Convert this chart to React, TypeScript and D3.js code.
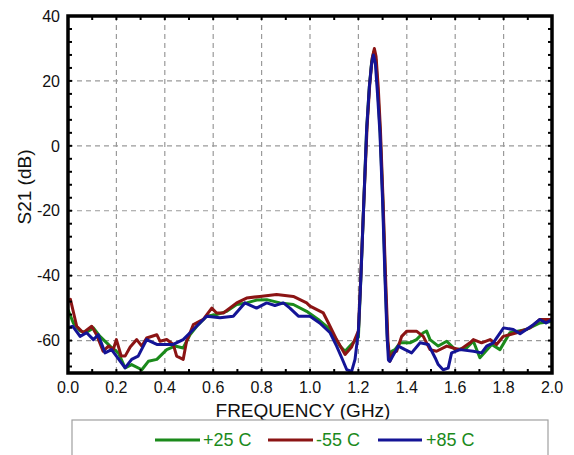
import React from "react";
import * as d3 from "d3";

// +25 C series
const freq25 = [0, 0.022, 0.05, 0.075, 0.105, 0.132, 0.174, 0.208, 0.236, 0.263, 0.305, 0.332, 0.367, 0.408, 0.442, 0.476, 0.504, 0.532, 0.573, 0.614, 0.656, 0.697, 0.738, 0.78, 0.821, 0.876, 0.931, 0.986, 1.034, 1.083, 1.124, 1.145, 1.165, 1.2, 1.21, 1.222, 1.234, 1.245, 1.255, 1.264, 1.272, 1.281, 1.29, 1.301, 1.311, 1.32, 1.327, 1.337, 1.351, 1.372, 1.413, 1.44, 1.468, 1.482, 1.496, 1.53, 1.565, 1.6, 1.647, 1.675, 1.702, 1.751, 1.785, 1.826, 1.895, 1.95, 2.0];
const s21_25 = [-50.5, -54.6, -57.1, -57.5, -56.1, -58.7, -61.7, -63.8, -68.4, -67.4, -69, -66.4, -65.8, -62.8, -61.7, -62.3, -58.2, -55.6, -52.5, -52, -51, -48.9, -48.4, -47.5, -47.4, -48.4, -48.9, -51, -53.5, -56.6, -61.7, -63.3, -61.7, -59, -41, -18, 5, 18, 26, 29, 26.5, 16, 4, -17, -41, -60, -65, -63.3, -62.8, -60.7, -60.7, -59.7, -57.6, -57.1, -59.7, -61.7, -60.2, -62.8, -62.3, -60.2, -65.3, -61.2, -62.8, -57.6, -56.6, -54.6, -54.1];

// -55 C series
const freqM55 = [0, 0.01, 0.036, 0.063, 0.098, 0.118, 0.145, 0.167, 0.187, 0.2, 0.22, 0.236, 0.257, 0.284, 0.305, 0.325, 0.367, 0.38, 0.408, 0.435, 0.449, 0.476, 0.49, 0.518, 0.559, 0.594, 0.614, 0.642, 0.697, 0.738, 0.793, 0.862, 0.931, 0.986, 1.0, 1.055, 1.076, 1.11, 1.145, 1.172, 1.2, 1.21, 1.222, 1.236, 1.247, 1.257, 1.266, 1.273, 1.282, 1.291, 1.302, 1.312, 1.322, 1.33, 1.344, 1.358, 1.379, 1.4, 1.44, 1.468, 1.496, 1.523, 1.565, 1.592, 1.62, 1.661, 1.675, 1.709, 1.744, 1.771, 1.799, 1.854, 1.909, 1.95, 2.0];
const s21_M55 = [-47.6, -47.3, -55.6, -57.6, -55.6, -58.2, -63.3, -61.7, -62.8, -59.7, -64.8, -64.8, -62, -59.7, -61.7, -59.2, -58.2, -60.2, -59.7, -61.2, -64.8, -65.8, -60.2, -55.1, -53.5, -50, -51.5, -51.5, -48.4, -46.9, -46.4, -45.8, -46.4, -48.4, -49.4, -51.5, -54.6, -59.7, -64.3, -62, -57, -40, -18, 6, 19, 27, 30, 27.5, 18, 5, -17, -40, -60, -66.4, -63.8, -63.3, -58.7, -57.1, -57.1, -58.7, -62.8, -63.3, -61.7, -62.3, -62.8, -60.7, -59.7, -60.7, -59.7, -61.2, -58.7, -57.6, -56.1, -53.5, -53.5];

// +85 C series
const freq85 = [0, 0.02, 0.05, 0.077, 0.105, 0.125, 0.153, 0.18, 0.2, 0.236, 0.263, 0.29, 0.325, 0.367, 0.435, 0.476, 0.518, 0.573, 0.628, 0.683, 0.731, 0.779, 0.821, 0.855, 0.89, 0.917, 0.952, 1.0, 1.04, 1.083, 1.11, 1.131, 1.152, 1.172, 1.186, 1.2, 1.21, 1.222, 1.234, 1.245, 1.254, 1.262, 1.27, 1.279, 1.289, 1.3, 1.31, 1.318, 1.324, 1.33, 1.365, 1.393, 1.42, 1.455, 1.489, 1.517, 1.53, 1.55, 1.571, 1.585, 1.62, 1.675, 1.709, 1.73, 1.757, 1.8, 1.84, 1.868, 1.923, 1.95, 1.975, 2.0];
const s21_85 = [-56.1, -55.6, -58.7, -57.6, -59.7, -58.2, -63.8, -62.8, -64.8, -68.4, -65.8, -64.8, -59.7, -61.2, -61.2, -59.7, -56.6, -52.5, -53, -52.5, -48.4, -50, -48.4, -49.2, -48.4, -50, -52.5, -52.5, -54.6, -57.6, -61.7, -65.3, -69, -69.5, -65.8, -57, -41, -18, 5, 18, 25, 28, 25.5, 16, 4, -17, -41, -58, -66, -66.4, -61.7, -62.8, -63.8, -60.7, -61.2, -65.3, -67.4, -69, -68.5, -63.8, -62.8, -63.3, -63.8, -61.7, -60.7, -56.1, -56.6, -57.9, -55.1, -53.5, -54.6, -53.5];

const seriesNames = ["+25 C", "-55 C", "+85 C"];
const seriesColors = ["#1b8a1b", "#8b1414", "#141496"];
const legendTextColor = "#1b8a1b";
const xTicks = [0, 0.2, 0.4, 0.6, 0.8, 1.0, 1.2, 1.4, 1.6, 1.8, 2.0];
const yTicks = [40, 20, 0, -20, -40, -60];

const W = 574, H = 455;
const L = 68, R = 552, T = 16, B = 373;

export default function App() {
  const x = d3.scaleLinear().domain([0, 2]).range([L, R]);
  const y = d3.scaleLinear().domain([-70, 40]).range([B, T]);
  const line = d3.line<[number, number]>().x(d => x(d[0])).y(d => y(d[1]));
  const allSeries = [
    d3.zip(freq25, s21_25) as [number, number][],
    d3.zip(freqM55, s21_M55) as [number, number][],
    d3.zip(freq85, s21_85) as [number, number][],
  ];
  const minorX = d3.range(1, 20).map(i => i / 10);
  const minorY = d3.range(36, -70, -4);
  const font = "'Liberation Sans', Arial, sans-serif";
  const legendItems = [
    { x1: 155, x2: 200, tx: 203 },
    { x1: 268, x2: 313, tx: 316 },
    { x1: 378, x2: 422, tx: 426 },
  ];
  return (
    <svg width={W} height={H} style={{ position: "absolute", left: 0, top: 0, background: "#fff" }} fontFamily={font}>
      <defs>
        <clipPath id="plotclip">
          <rect x={L} y={T} width={R - L} height={B - T} />
        </clipPath>
      </defs>
      <rect x={0} y={0} width={W} height={H} fill="#fff" />
      {xTicks.slice(1, -1).map(t => (
        <line key={"gx" + t} x1={x(t)} x2={x(t)} y1={T} y2={B} stroke="#9a9a9a" strokeWidth={1.2} strokeDasharray="5,4" />
      ))}
      {yTicks.slice(1).map(t => (
        <line key={"gy" + t} x1={L} x2={R} y1={y(t)} y2={y(t)} stroke="#9a9a9a" strokeWidth={1.2} strokeDasharray="5,4" />
      ))}
      <g clipPath="url(#plotclip)">
        {allSeries.map((s, i) => (
          <path key={i} d={line(s) || ""} fill="none" stroke={seriesColors[i]} strokeWidth={3} strokeLinejoin="round" />
        ))}
      </g>
      {minorX.map(t => (
        <g key={"mx" + t}>
          <line x1={x(t)} x2={x(t)} y1={T} y2={T + 4} stroke="#000" strokeWidth={2} />
          <line x1={x(t)} x2={x(t)} y1={B} y2={B - 4} stroke="#000" strokeWidth={2} />
        </g>
      ))}
      {minorY.map(t => (
        <g key={"my" + t}>
          <line x1={L} x2={L + 4} y1={y(t)} y2={y(t)} stroke="#000" strokeWidth={2} />
          <line x1={R} x2={R - 4} y1={y(t)} y2={y(t)} stroke="#000" strokeWidth={2} />
        </g>
      ))}
      <rect x={L} y={T} width={R - L} height={B - T} fill="none" stroke="#000" strokeWidth={3.5} />
      {xTicks.map(t => (
        <text key={"tx" + t} x={x(t)} y={393} textAnchor="middle" fontSize={16} fill="#111">{t.toFixed(1)}</text>
      ))}
      {yTicks.map(t => (
        <text key={"ty" + t} x={60} y={y(t)} dy="0.36em" textAnchor="end" fontSize={16} fill="#111">{t}</text>
      ))}
      <text x={303} y={417} textAnchor="middle" fontSize={19} fill="#111">FREQUENCY (GHz)</text>
      <text transform="translate(31,187) rotate(-90)" textAnchor="middle" fontSize={19} fill="#111">S21 (dB)</text>
      <rect x={72} y={420} width={476} height={60} fill="#fff" stroke="#a0a0a0" strokeWidth={1.2} />
      {legendItems.map((it, i) => (
        <g key={"lg" + i}>
          <line x1={it.x1} x2={it.x2} y1={440} y2={440} stroke={seriesColors[i]} strokeWidth={3} />
          <text x={it.tx} y={440} dy="0.36em" fontSize={18} fill={legendTextColor}>{seriesNames[i]}</text>
        </g>
      ))}
    </svg>
  );
}
